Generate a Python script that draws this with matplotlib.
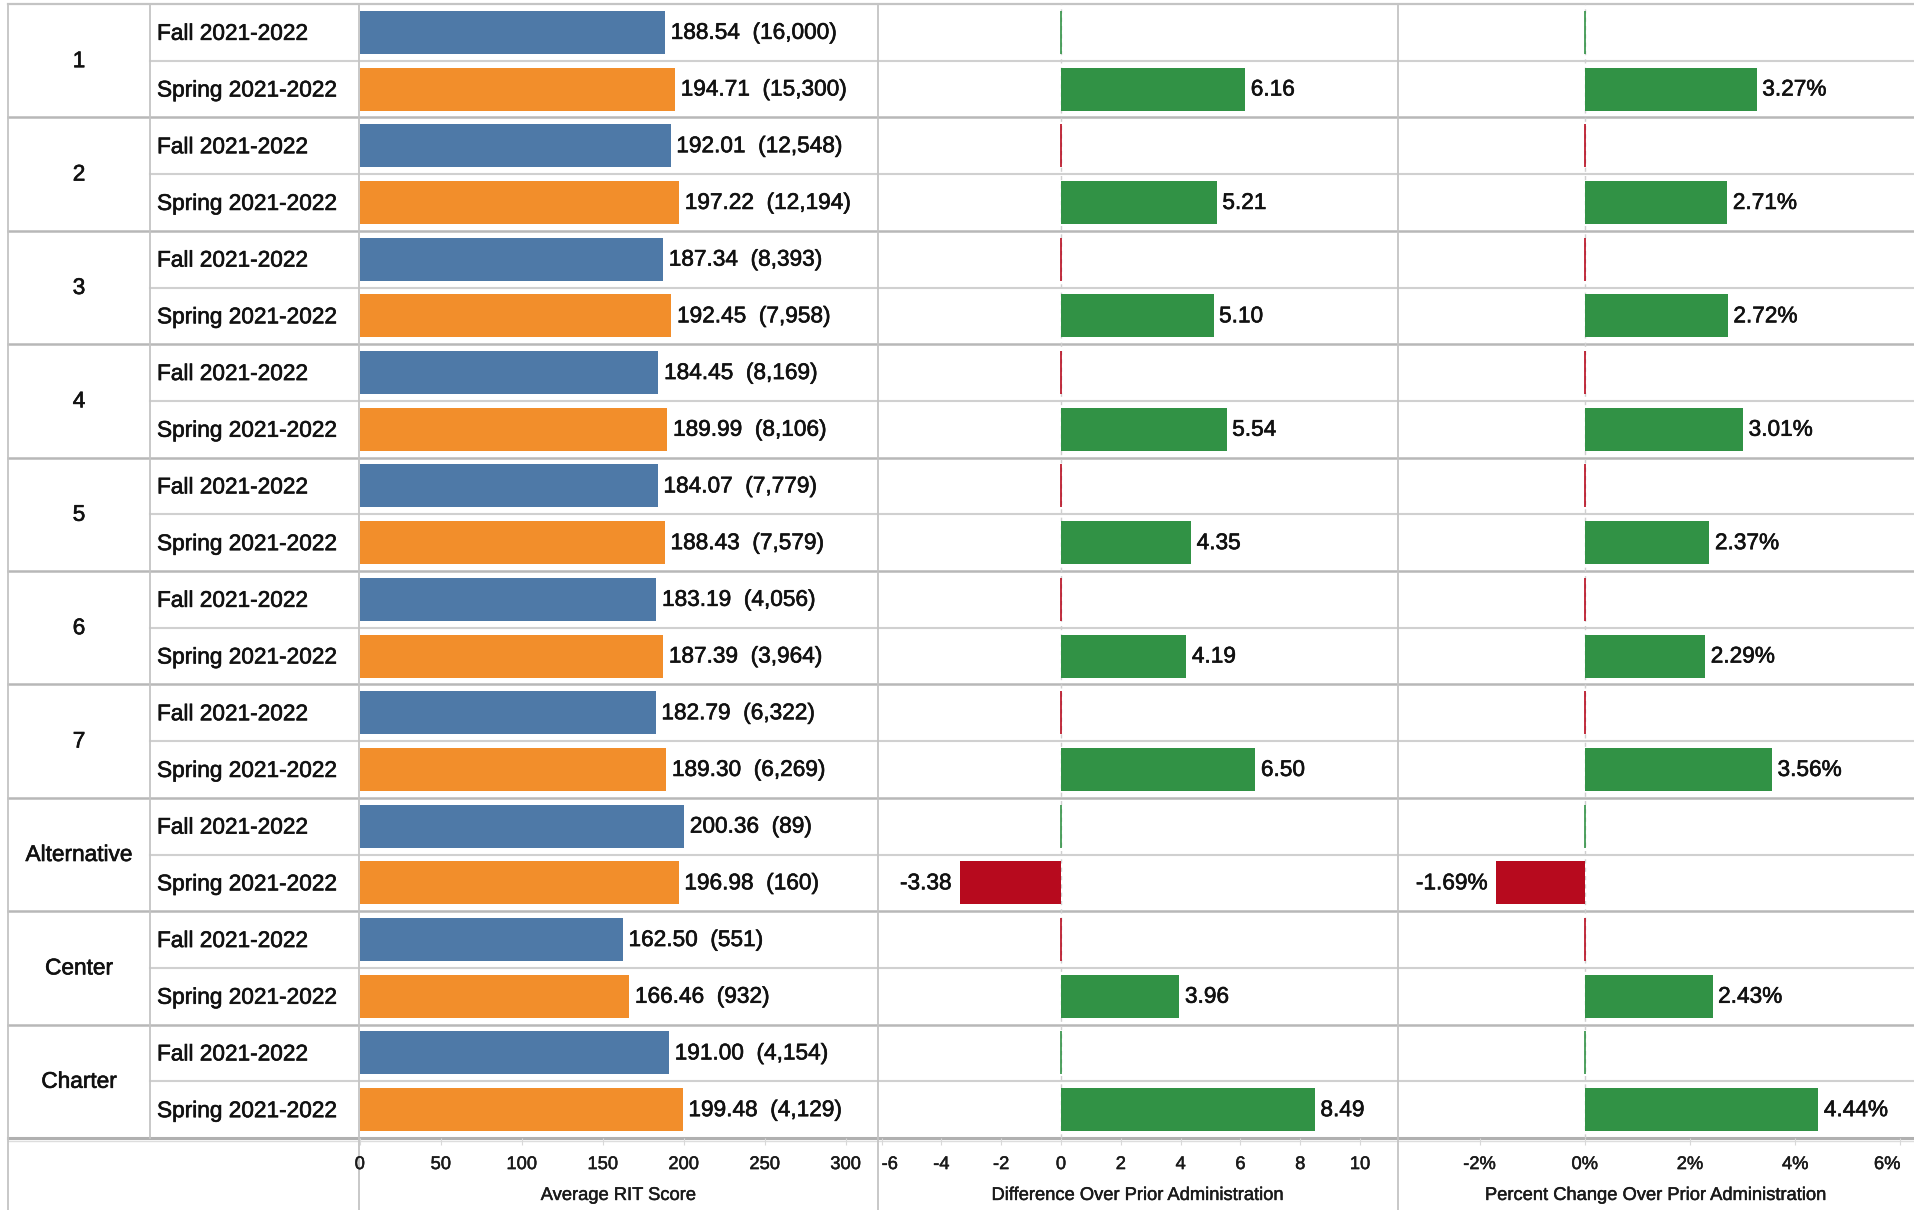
import matplotlib
matplotlib.use("Agg")
import matplotlib.pyplot as plt
import matplotlib.patheffects as pe
from matplotlib import font_manager as fm

# ---------------- data ----------------
groups = ['1', '2', '3', '4', '5', '6', '7', 'Alternative', 'Center', 'Charter']
periods = ['Fall 2021-2022', 'Spring 2021-2022']
fall_scores = [188.54, 192.01, 187.34, 184.45, 184.07, 183.19, 182.79, 200.36, 162.50, 191.00]
fall_n = [16000, 12548, 8393, 8169, 7779, 4056, 6322, 89, 551, 4154]
spring_scores = [194.71, 197.22, 192.45, 189.99, 188.43, 187.39, 189.30, 196.98, 166.46, 199.48]
spring_n = [15300, 12194, 7958, 8106, 7579, 3964, 6269, 160, 932, 4129]
diff_spring = [6.16, 5.21, 5.10, 5.54, 4.35, 4.19, 6.50, -3.38, 3.96, 8.49]
pct_spring = [3.27, 2.71, 2.72, 3.01, 2.37, 2.29, 3.56, -1.69, 2.43, 4.44]
diff_fall = [0, 0, 0, 0, 0, 0, 0, 0, 0, 0]
fall_zero_positive = [True, False, False, False, False, False, False, True, False, True]

score_ticks = [0, 50, 100, 150, 200, 250, 300]
diff_ticks = [-6, -4, -2, 0, 2, 4, 6, 8, 10]
pct_ticks = [-2, 0, 2, 4, 6]
axis_titles = ['Average RIT Score', 'Difference Over Prior Administration',
               'Percent Change Over Prior Administration']

# ---------------- style ----------------
BLUE = '#4E79A7'
ORANGE = '#F28E2B'
GREEN = '#319245'
RED = '#B70A1E'
GRID = '#c4c4c4'
TXT = '#111111'

names = {f.name for f in fm.fontManager.ttflist}
if 'Liberation Sans Narrow' in names:
    FONT = 'Liberation Sans Narrow'
    FS = 19.5
    TFS = 15.5
else:
    FONT = 'Liberation Sans'
    FS = 16.3
    TFS = 13.2
plt.rcParams['font.family'] = [FONT, 'DejaVu Sans']
BOLDISH = [pe.withStroke(linewidth=0.45, foreground=TXT)]
BOLDISH_T = [pe.withStroke(linewidth=0.35, foreground='#1a1a1a')]

W, H = 1914, 1210
fig = plt.figure(figsize=(W / 100, H / 100), dpi=100)

TOP, BOT = 4, 1138
XL, XG, XLAB, X1, X2, XR = 8, 150, 359, 878, 1398, 1914
nrows = 2 * len(groups)
rh = (BOT - TOP) / nrows

# background axes in pixel coords
bg = fig.add_axes([0, 0, 1, 1], zorder=0)
bg.set_xlim(0, W)
bg.set_ylim(H, 0)
bg.axis('off')

# horizontal lines
bg.plot([XL, XR], [TOP, TOP], color=GRID, lw=1.6)
for g in range(1, len(groups)):
    y = TOP + 2 * g * rh
    bg.plot([XL, XR], [y, y], color='#b8b8b8', lw=1.8)
for g in range(len(groups)):
    y = TOP + (2 * g + 1) * rh
    bg.plot([XG, XR], [y, y], color='#d0d0d0', lw=1.5)
bg.plot([XL, XR], [BOT, BOT], color='#b0b0b0', lw=2.2)
bg.plot([XL, XR], [BOT + 3, BOT + 3], color='#dddddd', lw=1.0)
# vertical lines
bg.plot([XL, XL], [TOP, H], color=GRID, lw=1.3)
bg.plot([XG, XG], [TOP, BOT], color=GRID, lw=1.3)
for x in (XLAB, X1, X2):
    bg.plot([x, x], [TOP, H], color=GRID, lw=1.3)

# row labels
for g, name in enumerate(groups):
    yc = TOP + (2 * g + 1) * rh
    bg.text((XL + XG) / 2, yc, name, ha='center', va='center', fontsize=FS, color=TXT,
            path_effects=BOLDISH)
    for k, p in enumerate(periods):
        bg.text(157, TOP + (2 * g + k + 0.5) * rh + 1, p, ha='left', va='center',
                fontsize=FS, color=TXT, path_effects=BOLDISH)

def make_ax(x0, x1):
    ax = fig.add_axes([x0 / W, (H - BOT) / H, (x1 - x0) / W, (BOT - TOP) / H], zorder=2)
    ax.patch.set_alpha(0)
    for s in ax.spines.values():
        s.set_visible(False)
    ax.set_ylim(nrows, 0)
    ax.set_yticks([])
    ax.tick_params(axis='x', length=5, color='#d8d8d8', labelsize=TFS, pad=8,
                   labelcolor='#1a1a1a')
    return ax

def label(ax, text, x, y, dx, ha):
    ax.annotate(text, (x, y), xytext=(dx, 0), textcoords='offset points',
                ha=ha, va='center', fontsize=FS, color=TXT, path_effects=BOLDISH)

fall_y = [2 * g + 0.5 for g in range(len(groups))]
spring_y = [2 * g + 1.5 for g in range(len(groups))]
BH = 0.76

# panel 1
ax1 = make_ax(XLAB, X1)
ax1.set_xlim(-0.5, 320)
ax1.barh(fall_y, fall_scores, height=BH, color=BLUE)
ax1.barh(spring_y, spring_scores, height=BH, color=ORANGE)
for y, v, n in zip(fall_y, fall_scores, fall_n):
    label(ax1, f'{v:.2f}  ({n:,})', v, y, 4, 'left')
for y, v, n in zip(spring_y, spring_scores, spring_n):
    label(ax1, f'{v:.2f}  ({n:,})', v, y, 4, 'left')
ax1.set_xticks(score_ticks)
ax1.set_xticklabels([str(t) for t in score_ticks])

# panel 2 / 3
def change_panel(ax, fall_vals, spring_vals, fmt):
    ax.axvline(0, color='#cfcfcf', lw=1, ls=(0, (3, 3)), zorder=0)
    cols = [GREEN if p else RED for p in fall_zero_positive]
    ax.barh(fall_y, fall_vals, height=BH, color=cols, edgecolor=cols, linewidth=1.2)
    scol = [GREEN if v >= 0 else RED for v in spring_vals]
    ax.barh(spring_y, spring_vals, height=BH, color=scol)
    for y, v in zip(spring_y, spring_vals):
        if v >= 0:
            label(ax, fmt(v), v, y, 4, 'left')
        else:
            label(ax, fmt(v), v, y, -6, 'right')

ax2 = make_ax(X1, X2)
ax2.set_xlim(-6.12, 11.27)
change_panel(ax2, diff_fall, diff_spring, lambda v: f'{v:.2f}')
ax2.set_xticks(diff_ticks)
ax2.set_xticklabels([str(t) for t in diff_ticks])
ax2.get_xticklabels()[0].set_horizontalalignment('left')

ax3 = make_ax(X2, XR)
ax3.set_xlim(-3.55, 6.26)
change_panel(ax3, diff_fall, pct_spring, lambda v: f'{v:.2f}%')
ax3.set_xticks(pct_ticks)
ax3.set_xticklabels([f'{t}%' for t in pct_ticks])
ax3.get_xticklabels()[-1].set_horizontalalignment('right')

for ax, t in zip((ax1, ax2, ax3), axis_titles):
    ax.set_xlabel(t, fontsize=TFS, color='#1a1a1a', labelpad=10, path_effects=BOLDISH_T)
    for tl in ax.get_xticklabels():
        tl.set_path_effects(BOLDISH_T)

fig.savefig('out.png', dpi=100)
